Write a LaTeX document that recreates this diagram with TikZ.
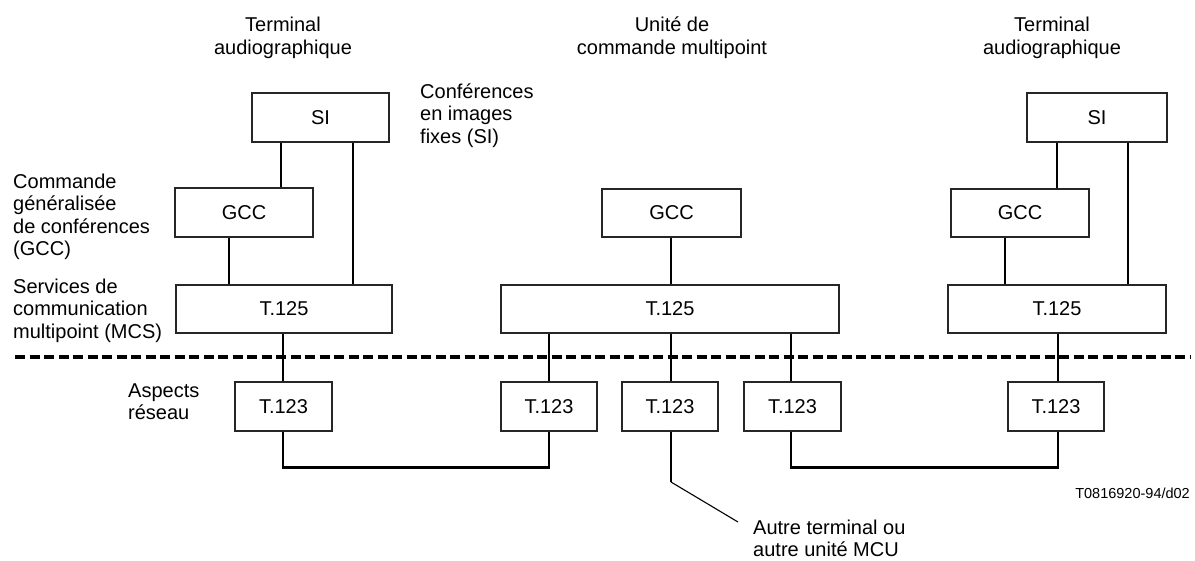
\documentclass[tikz,border=0pt]{standalone}
\usepackage{fontspec}
\setmainfont{Liberation Sans}
\begin{document}
\begin{tikzpicture}[x=1pt,y=-1pt,
  every node/.style={font=\fontsize{20}{22.5}\selectfont},
  layerbox/.style={draw=black!85,line width=1.1pt,inner sep=0pt,minimum height=49pt},
  conn/.style={line width=2.2pt,black},
  thinconn/.style={line width=1.1pt,black},
  lbl/.style={inner sep=0pt,align=left,anchor=north west},
  title/.style={inner sep=0pt,align=center,anchor=north},
  separator/.style={line width=3.5pt,dash pattern=on 10pt off 4.5pt}]
\useasboundingbox (0,0) rectangle (1195,560);

% column titles
\node[title] (ttl1) at (283,17) {Terminal\\audiographique};
\node[title] (ttl2) at (672,17) {Unité de\\commande multipoint};
\node[title] (ttl3) at (1052,17) {Terminal\\audiographique};

% layer labels
\node[lbl] (lsi)  at (420,83.5)  {Conférences\\en images\\fixes (SI)};
\node[lbl] (lgcc) at (13,173.5)  {Commande\\généralisée\\de conférences\\(GCC)};
\node[lbl] (lmcs) at (13,278.5)  {Services de\\communication\\multipoint (MCS)};
\node[lbl] (lnet) at (128,383.5) {Aspects\\réseau};

% left terminal
\node[layerbox,minimum width=137pt] (si1)  at (320.5,117.5) {SI};
\node[layerbox,minimum width=138pt] (gcc1) at (244,212.5)   {GCC};
\node[layerbox,minimum width=216pt,minimum height=48pt] (mcs1) at (284,309) {T.125};
\node[layerbox,minimum width=97pt]  (net1) at (283.5,406.5) {T.123};

% multipoint control unit
\node[layerbox,minimum width=139pt,minimum height=48pt] (gcc2) at (671.5,213) {GCC};
\node[layerbox,minimum width=338pt,minimum height=48pt] (mcs2) at (670,309) {T.125};
\node[layerbox,minimum width=96pt] (net2) at (549,406.5)   {T.123};
\node[layerbox,minimum width=96pt] (net3) at (670,406.5)   {T.123};
\node[layerbox,minimum width=97pt] (net4) at (792.5,406.5) {T.123};

% right terminal
\node[layerbox,minimum width=140pt] (si3)  at (1097,117.5) {SI};
\node[layerbox,minimum width=138pt,minimum height=48pt] (gcc3) at (1020,213) {GCC};
\node[layerbox,minimum width=218pt,minimum height=48pt] (mcs3) at (1057,309) {T.125};
\node[layerbox,minimum width=96pt] (net5) at (1056,406.5) {T.123};

% boundary between application and network layers
\draw[separator] (15,357) -- (1190,357);

% left terminal links
\draw[conn] (si1.south -| 281,0) -- (gcc1.north -| 281,0);
\draw[conn] (si1.south -| 353,0) -- (mcs1.north -| 353,0);
\draw[conn] (gcc1.south -| 229,0) -- (mcs1.north -| 229,0);
\draw[conn] (mcs1.south -| 283,0) -- (net1.north -| 283,0);

% MCU links
\draw[conn] (gcc2.south -| 671,0) -- (mcs2.north -| 671,0);
\draw[conn] (mcs2.south -| 549,0) -- (net2.north -| 549,0);
\draw[conn] (mcs2.south -| 671,0) -- (net3.north -| 671,0);
\draw[conn] (mcs2.south -| 791,0) -- (net4.north -| 791,0);

% right terminal links
\draw[conn] (si3.south -| 1057,0) -- (gcc3.north -| 1057,0);
\draw[conn] (si3.south -| 1128,0) -- (mcs3.north -| 1128,0);
\draw[conn] (gcc3.south -| 1005,0) -- (mcs3.north -| 1005,0);
\draw[conn] (mcs3.south -| 1058,0) -- (net5.north -| 1058,0);

% network connections
\draw[conn] (net1.south -| 283,0) -- ++(0,36) -| (net2.south -| 549,0);
\draw[conn] (net4.south -| 791,0) -- ++(0,36) -| (net5.south -| 1058,0);

% link to another terminal or MCU
\node[lbl] (other) at (753,519.5) {Autre terminal ou\\autre unité MCU};
\coordinate (bend) at (671,482);
\draw[conn] (net3.south -| 671,0) -- (bend);
\draw[thinconn] (bend) -- (738,522);

% figure reference
\node[inner sep=0pt,anchor=base east,font=\fontsize{14.5}{16}\selectfont] (ref) at (1190,498) {T0816920-94/d02};
\end{tikzpicture}
\end{document}
